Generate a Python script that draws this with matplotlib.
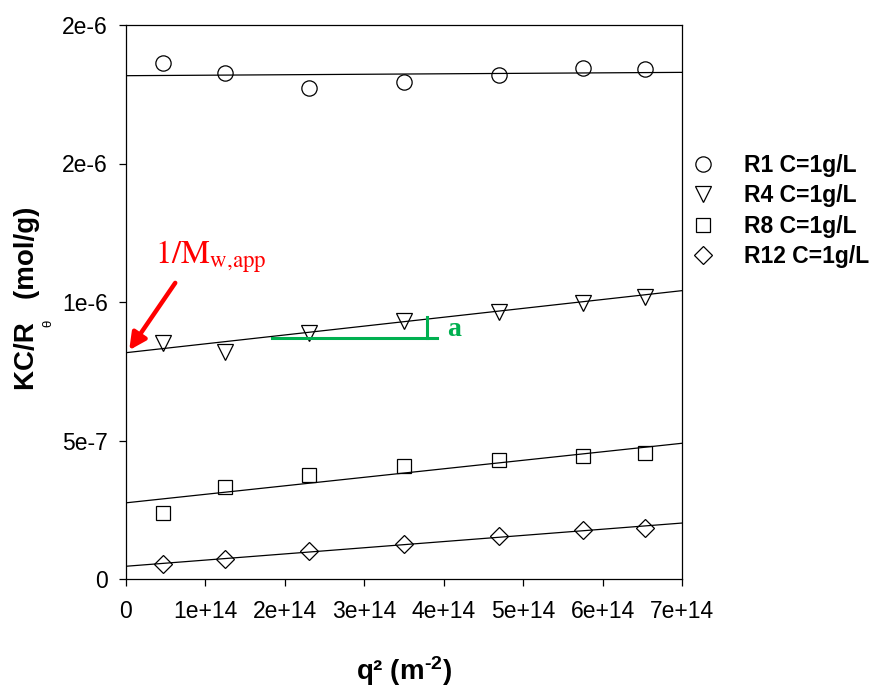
import numpy as np
import matplotlib
matplotlib.use('Agg')
import matplotlib.pyplot as plt

plt.rcParams['font.family'] = ['Liberation Sans', 'DejaVu Sans']
plt.rcParams['mathtext.fontset'] = 'custom'
plt.rcParams['mathtext.rm'] = 'Liberation Sans'
plt.rcParams['mathtext.bf'] = 'Liberation Sans:bold'
plt.rcParams['mathtext.it'] = 'Liberation Sans:italic'

# q^2 values (m^-2)
q2 = [0.47e14, 1.25e14, 2.30e14, 3.50e14, 4.69e14, 5.75e14, 6.53e14]

# KC/R_theta (mol/g)
r1 = [1.863e-6, 1.826e-6, 1.771e-6, 1.795e-6, 1.819e-6, 1.846e-6, 1.842e-6]
r4 = [0.851e-6, 0.821e-6, 0.887e-6, 0.932e-6, 0.963e-6, 0.995e-6, 1.019e-6]
r8 = [0.239e-6, 0.332e-6, 0.375e-6, 0.408e-6, 0.430e-6, 0.445e-6, 0.455e-6]
r12 = [0.053e-6, 0.073e-6, 0.100e-6, 0.127e-6, 0.154e-6, 0.178e-6, 0.185e-6]

# fitted lines, value at q2 = 0 and q2 = 7e14
fit_x = [0, 7e14]
fit_r1 = [1.817e-6, 1.829e-6]
fit_r4 = [0.817e-6, 1.041e-6]
fit_r8 = [0.275e-6, 0.490e-6]
fit_r12 = [0.046e-6, 0.202e-6]

labels = ['R1 C=1g/L', 'R4 C=1g/L', 'R8 C=1g/L', 'R12 C=1g/L']

x_ticks = [0, 1e14, 2e14, 3e14, 4e14, 5e14, 6e14, 7e14]
x_tick_labels = ['0', '1e+14', '2e+14', '3e+14', '4e+14', '5e+14', '6e+14', '7e+14']
y_ticks = [0, 0.5e-6, 1.0e-6, 1.5e-6, 2.0e-6]
y_tick_labels = ['0', '5e-7', '1e-6', '2e-6', '2e-6']

fig = plt.figure(figsize=(8.73, 6.87), dpi=100)
ax = fig.add_axes([126 / 873, 1 - 579 / 687, (682 - 126) / 873, (579 - 25) / 687])

series = [(r1, fit_r1, 'o', 11), (r4, fit_r4, 'v', 11), (r8, fit_r8, 's', 9.5), (r12, fit_r12, 'D', 9.5)]
handles = []
for (vals, fit, m, ms), lab in zip(series, labels):
    ax.plot(fit_x, fit, color='black', lw=0.9, zorder=2)
    h, = ax.plot(q2, vals, ls='none', marker=m, ms=ms, mfc='none', mec='black',
                 mew=0.9, label=lab, zorder=3)
    handles.append(h)

ax.set_xlim(0, 7e14)
ax.set_ylim(0, 2e-6)
ax.set_xticks(x_ticks)
ax.set_xticklabels(x_tick_labels)
ax.set_yticks(y_ticks)
ax.set_yticklabels(y_tick_labels)
ax.tick_params(axis='both', direction='out', length=5, width=0.9, labelsize=16.5)
ax.tick_params(axis='y', pad=8)
ax.tick_params(axis='x', pad=10)
for sp in ax.spines.values():
    sp.set_linewidth(0.9)

# axis labels
fig.text(404 / 873, 1 - 680 / 687, 'q² (m$^{\\mathbf{\u20102}}$)', fontsize=20,
         fontweight='bold', ha='center', va='baseline')
fig.text(27 / 873, 1 - 298 / 687, 'KC/R   (mol/g)', fontsize=20, fontweight='bold',
         rotation=90, ha='center', va='center')
fig.text(48 / 873, 1 - 323 / 687, 'θ', fontsize=9.5, rotation=90, ha='center', va='center')

# annotations
ax.annotate('', xy=(0.04e14, 0.826e-6), xytext=(0.62e14, 1.069e-6),
            arrowprops=dict(arrowstyle='-|>,head_length=1.0,head_width=0.5',
                            color='red', lw=3.2, shrinkA=0, shrinkB=0),
            annotation_clip=False)
ax.text(0.36e14, 1.138e-6, r'$\mathrm{1/M_{w{,}app}}$', color='red', fontsize=23.5,
        math_fontfamily='stix', va='baseline')
ax.plot([1.84e14, 3.92e14], [0.871e-6, 0.871e-6], color='#00b050', lw=2.2, zorder=4)
ax.plot([3.79e14, 3.79e14], [0.871e-6, 0.946e-6], color='#00b050', lw=2.2, zorder=4)
ax.text(4.04e14, 0.877e-6, 'a', color='#00b050', fontsize=20, fontweight='bold',
        family='Liberation Serif', va='baseline')

fig.legend(handles=handles, labels=labels, loc='upper left',
           bbox_to_anchor=(692 / 873, 1 - 154 / 687), frameon=False,
           prop={'weight': 'bold', 'size': 16.5}, handlelength=1.0,
           handletextpad=1.25, labelspacing=0.32, borderpad=0, borderaxespad=0)

fig.savefig('out.png', dpi=100)
